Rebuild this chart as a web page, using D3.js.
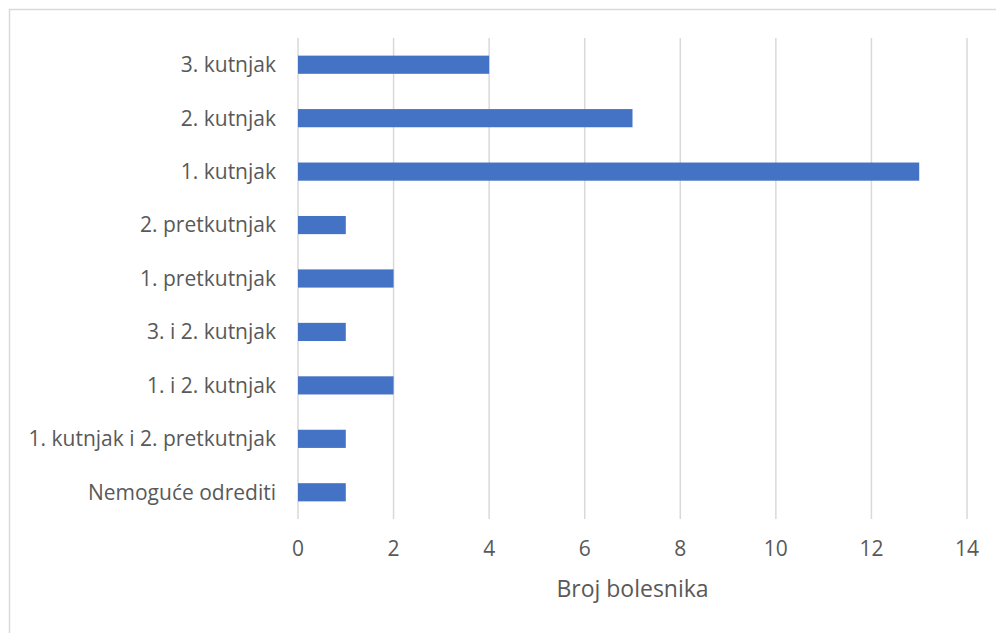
<!DOCTYPE html>
<html lang="hr">
<head>
<meta charset="UTF-8">
<title>Broj bolesnika</title>
<script src="https://d3js.org/d3.v7.min.js"></script>
<style>
  body { margin: 0; background: #fff; }
  text { font-family: "Open Sans", sans-serif; fill: #595959; }
</style>
</head>
<body>
<svg id="chart" width="996" height="633"></svg>
<script>
// data, top to bottom as drawn
var categories = ["3. kutnjak", "2. kutnjak", "1. kutnjak", "2. pretkutnjak", "1. pretkutnjak",
                  "3. i 2. kutnjak", "1. i 2. kutnjak", "1. kutnjak i 2. pretkutnjak", "Nemoguće odrediti"];
var values = [4, 7, 13, 1, 2, 1, 2, 1, 1];
var xTicks = [0, 2, 4, 6, 8, 10, 12, 14];
var xTitle = "Broj bolesnika";

var svg = d3.select("#chart"),
    width = +svg.attr("width"),
    height = +svg.attr("height");

// outer frame
svg.append("rect")
  .attr("x", 9.5).attr("y", 9.5)
  .attr("width", width).attr("height", height)
  .attr("fill", "none").attr("stroke", "#d9d9d9").attr("stroke-width", 1.5);

var plotL = 298, plotR = 967, plotT = 38, plotB = 519;

var x = d3.scaleLinear().domain([0, 14]).range([plotL, plotR]);
var y = d3.scaleBand().domain(categories).range([plotT, plotB]).paddingInner(0.66).paddingOuter(0.33);

// gridlines
svg.append("g").selectAll("line")
  .data(xTicks)
  .enter().append("line")
  .attr("x1", function(d) { return x(d); })
  .attr("x2", function(d) { return x(d); })
  .attr("y1", plotT).attr("y2", plotB)
  .attr("stroke", "#d9d9d9").attr("stroke-width", 1.5);

// bars
svg.append("g").selectAll("rect")
  .data(categories)
  .enter().append("rect")
  .attr("x", x(0))
  .attr("y", function(d) { return y(d); })
  .attr("width", function(d, i) { return x(values[i]) - x(0); })
  .attr("height", y.bandwidth())
  .attr("fill", "#4472c4");

// category labels
svg.append("g").selectAll("text")
  .data(categories)
  .enter().append("text")
  .attr("x", plotL - 22)
  .attr("y", function(d) { return y(d) + y.bandwidth() / 2; })
  .attr("dy", "0.35em")
  .attr("text-anchor", "end")
  .style("font-size", "21px")
  .text(function(d) { return d; });

// x tick labels
svg.append("g").selectAll("text")
  .data(xTicks)
  .enter().append("text")
  .attr("x", function(d) { return x(d); })
  .attr("y", 549)
  .attr("dy", "0.35em")
  .attr("text-anchor", "middle")
  .style("font-size", "21px")
  .text(function(d) { return d; });

// axis title
svg.append("text")
  .attr("x", (plotL + plotR) / 2)
  .attr("y", 589)
  .attr("dy", "0.35em")
  .attr("text-anchor", "middle")
  .style("font-size", "23px")
  .text(xTitle);
</script>
</body>
</html>
